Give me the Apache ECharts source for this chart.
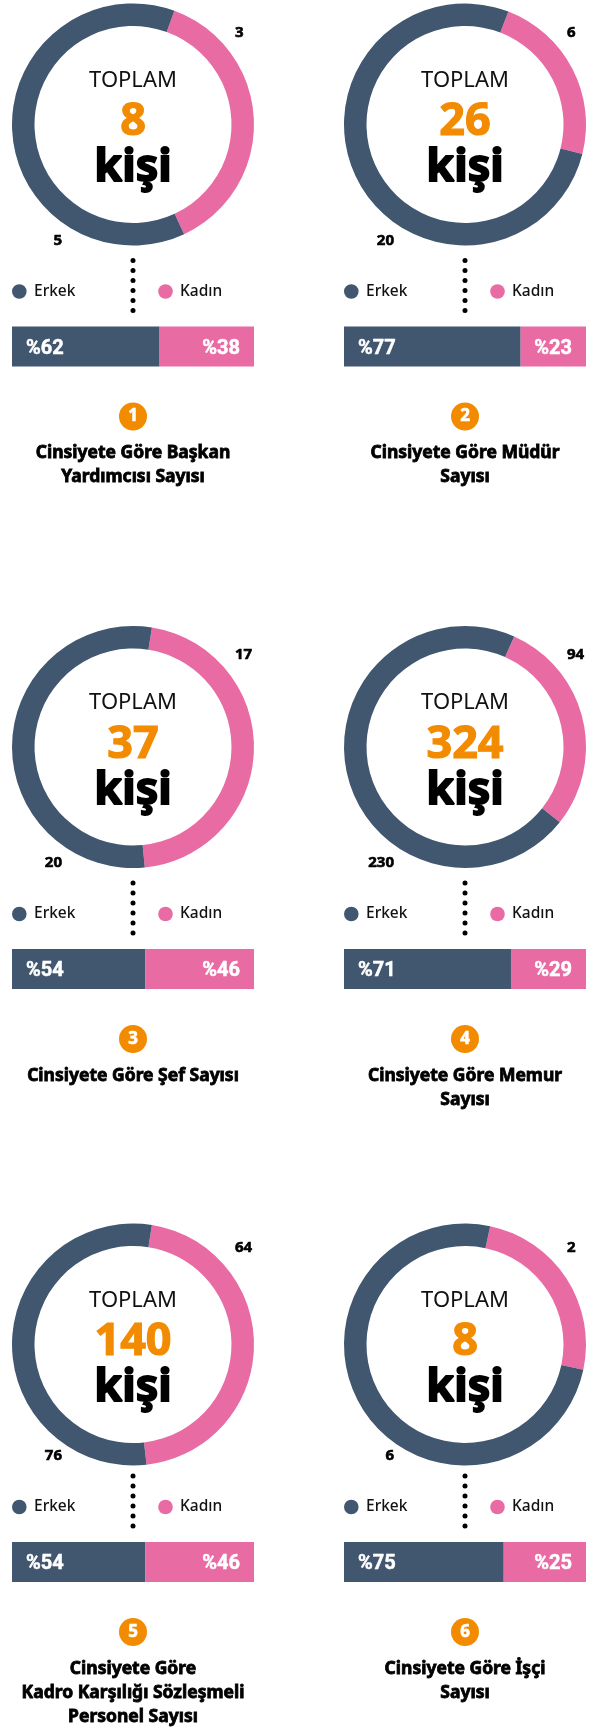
<!DOCTYPE html>
<html>
<head>
<meta charset="utf-8">
<script src="https://cdn.jsdelivr.net/npm/echarts@6/dist/echarts.min.js"></script>
<style>
  html, body { margin: 0; padding: 0; background: #fff; }
  #main { width: 591px; height: 1733px; }
</style>
</head>
<body>
<div id="main"></div>
<script>
// veriler
const erkek = [5, 20, 20, 230, 76, 6];
const kadin = [3, 6, 17, 94, 64, 2];
const toplam = [8, 26, 37, 324, 140, 8];
const erkekPct = ['%62', '%77', '%54', '%71', '%54', '%75'];
const kadinPct = ['%38', '%23', '%46', '%29', '%46', '%25'];
// bar lengths as drawn in the picture
const barErkek = [61, 73, 55, 69, 55, 66];
const barKadin = [39, 27, 45, 31, 45, 34];
const titles = [
  'Cinsiyete Göre Başkan\nYardımcısı Sayısı',
  'Cinsiyete Göre Müdür\nSayısı',
  'Cinsiyete Göre Şef Sayısı',
  'Cinsiyete Göre Memur\nSayısı',
  'Cinsiyete Göre\nKadro Karşılığı Sözleşmeli\nPersonel Sayısı',
  'Cinsiyete Göre İşçi\nSayısı'
];

// yerleşim
const colX = [133, 465];
const donutY = [124.5, 747, 1344.5];
const baseY = [124.5, 747, 1340];
const startAngles = [70, 69, 81, 66, 81, 78];

const BLUE = '#41566f';
const PINK = '#e96ba4';
const ORANGE = '#f28b00';
const HEAD = '"Noto Sans", sans-serif';

const myChart = echarts.init(document.getElementById('main'), null, { renderer: 'canvas' });

const series = [];
const grid = [];
const xAxis = [];
const yAxis = [];
const graphic = [];

// bold text, optionally thickened with a stroke of the same colour
function txt(x, y, text, size, weight, color, align, valign, thick, extra) {
  const st = {
    text: text, fill: color, fontSize: size, fontWeight: weight,
    fontFamily: HEAD, textAlign: align || 'center', textVerticalAlign: valign || 'middle'
  };
  if (thick) { st.stroke = color; st.lineWidth = thick; }
  return { type: 'text', x: x, y: y, silent: true, style: Object.assign(st, extra || {}) };
}

for (let i = 0; i < 6; i++) {
  const cx = colX[i % 2];
  const cy = donutY[Math.floor(i / 2)];
  const by = baseY[Math.floor(i / 2)];

  // halka
  series.push({
    type: 'pie',
    center: [cx, cy],
    radius: [98.5, 121],
    startAngle: startAngles[i],
    clockwise: true,
    silent: true,
    label: { show: false },
    labelLine: { show: false },
    itemStyle: { borderWidth: 0 },
    data: [
      { name: 'Kadın', value: kadin[i], itemStyle: { color: PINK } },
      { name: 'Erkek', value: erkek[i], itemStyle: { color: BLUE } }
    ]
  });

  // yüzde çubuğu
  grid.push({ left: cx - 121, top: by + 202, width: 242, height: 40 });
  xAxis.push({ type: 'value', gridIndex: i, min: 0, max: 100, show: false });
  yAxis.push({ type: 'category', gridIndex: i, data: ['p'], show: false });
  const barLabel = {
    show: true, distance: 14, offset: [0, 2], color: '#fff', fontSize: 20,
    fontWeight: 'bold', fontFamily: 'Roboto', textBorderColor: '#fff', textBorderWidth: 0.5
  };
  series.push({
    type: 'bar', xAxisIndex: i, yAxisIndex: i, stack: 's' + i, barWidth: 40, silent: true,
    itemStyle: { color: BLUE },
    label: Object.assign({ position: 'insideLeft', formatter: erkekPct[i] }, barLabel),
    data: [barErkek[i]]
  });
  series.push({
    type: 'bar', xAxisIndex: i, yAxisIndex: i, stack: 's' + i, barWidth: 40, silent: true,
    itemStyle: { color: PINK },
    label: Object.assign({ position: 'insideRight', formatter: kadinPct[i] }, barLabel),
    data: [barKadin[i]]
  });

  // ortadaki yazılar
  graphic.push(txt(cx, cy - 44, 'TOPLAM', 22, 400, '#111'));
  graphic.push(txt(cx, cy - 2, String(toplam[i]), 45, 'bold', ORANGE, 'center', 'middle', 1.2));
  graphic.push(txt(cx, cy + 44, 'kişi', 45, 'bold', '#000', 'center', 'middle', 1.8));

  // değer etiketleri
  graphic.push(txt(cx + 102, by - 92, String(kadin[i]), 15, 'bold', '#000', 'left', 'middle', 0.6));
  graphic.push(txt(cx - 71, by + 116, String(erkek[i]), 15, 'bold', '#000', 'right', 'middle', 0.6));

  // lejant
  graphic.push({ type: 'circle', silent: true, shape: { cx: cx - 113.7, cy: by + 167, r: 7.3 }, style: { fill: BLUE } });
  graphic.push(txt(cx - 99, by + 167, 'Erkek', 15.5, 500, '#111', 'left'));
  graphic.push({ type: 'circle', silent: true, shape: { cx: cx + 32.5, cy: by + 167, r: 7.3 }, style: { fill: PINK } });
  graphic.push(txt(cx + 47, by + 167, 'Kadın', 15.5, 500, '#111', 'left'));

  // noktalı çizgi
  for (let d = 0; d < 6; d++) {
    graphic.push({ type: 'circle', silent: true, shape: { cx: cx, cy: by + 136 + d * 10, r: 2.5 }, style: { fill: '#000' } });
  }

  // numara
  graphic.push({ type: 'circle', silent: true, shape: { cx: cx, cy: by + 292, r: 14 }, style: { fill: ORANGE } });
  graphic.push(txt(cx, by + 292, String(i + 1), 17, 'bold', '#fff', 'center', 'middle', 0.6));

  // başlık
  graphic.push(txt(cx, by + 317, titles[i], 17.5, 'bold', '#000', 'center', 'top', 0.8, { lineHeight: 24 }));
}

myChart.setOption({
  animation: false,
  grid: grid,
  xAxis: xAxis,
  yAxis: yAxis,
  series: series,
  graphic: { elements: graphic }
});
</script>
</body>
</html>
